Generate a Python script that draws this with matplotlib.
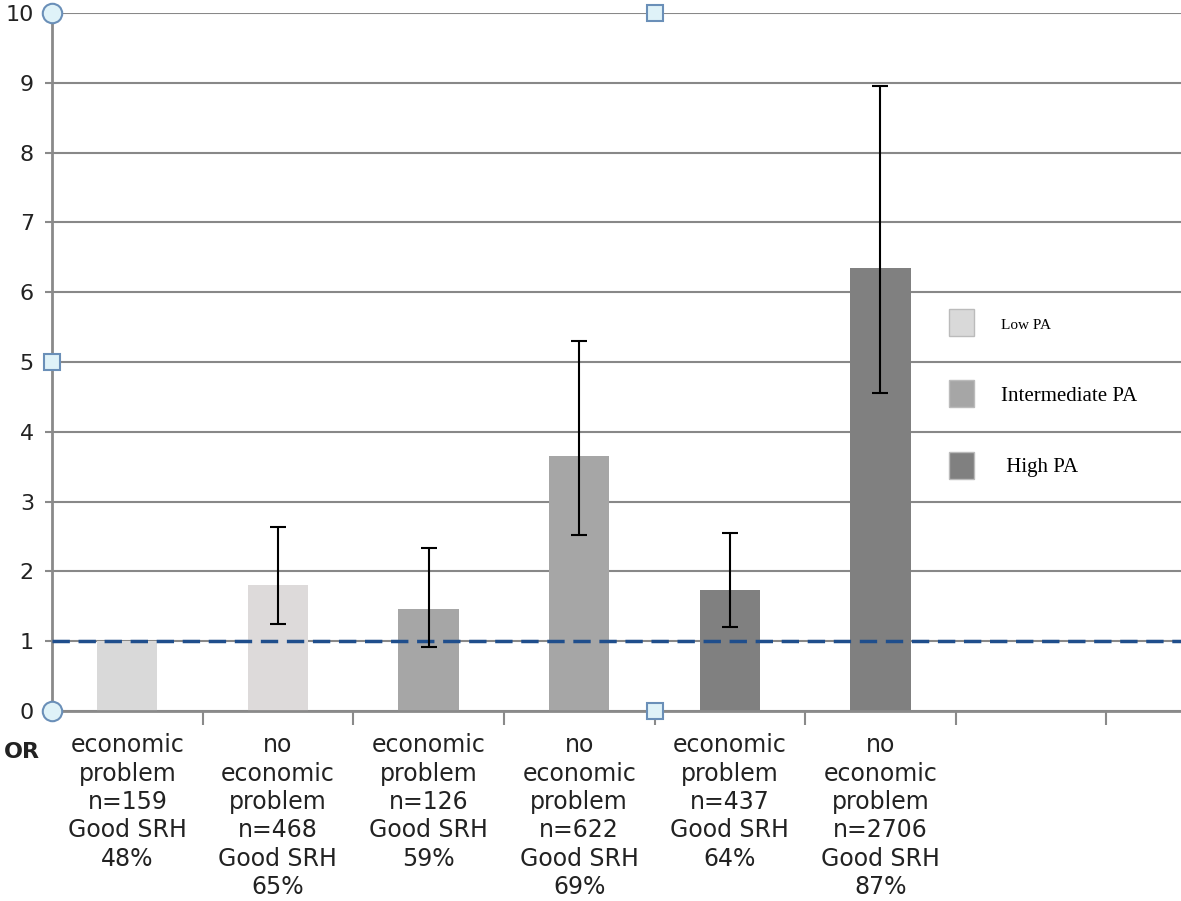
import matplotlib
matplotlib.use("Agg")
import matplotlib.pyplot as plt
from matplotlib.patches import Patch

# odds ratios with 95% CI
labels = [
    "economic\nproblem\nn=159\nGood SRH\n48%",
    "no\neconomic\nproblem\nn=468\nGood SRH\n65%",
    "economic\nproblem\nn=126\nGood SRH\n59%",
    "no\neconomic\nproblem\nn=622\nGood SRH\n69%",
    "economic\nproblem\nn=437\nGood SRH\n64%",
    "no\neconomic\nproblem\nn=2706\nGood SRH\n87%",
]
odds = [1.0, 1.8, 1.46, 3.65, 1.74, 6.35]
ci_low = [None, 1.25, 0.92, 2.52, 1.2, 4.55]
ci_high = [None, 2.63, 2.34, 5.3, 2.55, 8.95]
bar_colors = ["#d9d9d9", "#dddada", "#a6a6a6", "#a6a6a6", "#808080", "#808080"]
legend_labels = ["Low PA", "Intermediate PA", " High PA"]
legend_colors = ["#d9d9d9", "#a6a6a6", "#808080"]

fig = plt.figure(figsize=(11.81, 9.01), dpi=100)
ax = fig.add_axes([52 / 1181, 1 - 711 / 901, 1205 / 1181, 698 / 901])

x = list(range(len(odds)))
ax.bar(x, odds, width=0.4, color=bar_colors, zorder=2)
for xi, v, lo, hi in zip(x, odds, ci_low, ci_high):
    if lo is None:
        continue
    ax.errorbar(xi, v, yerr=[[v - lo], [hi - v]], fmt="none", ecolor="black",
                elinewidth=1.5, capsize=6, capthick=1.5, zorder=4)

ax.axhline(1, color="#1f4e8c", lw=2.5, ls=(0, (5, 2.5)), zorder=3)

ax.set_xlim(-0.5, 7.5)
ax.set_ylim(0, 10)
ax.set_yticks(range(11))
ax.yaxis.grid(True, color="#888888", lw=1.5, zorder=0)
ax.set_axisbelow(True)
for side in ["top", "right"]:
    ax.spines[side].set_visible(False)
for side in ["left", "bottom"]:
    ax.spines[side].set_color("#8a8a8a")
    ax.spines[side].set_linewidth(2)

ax.set_xticks(x)
ax.set_xticklabels(labels, fontsize=17, linespacing=1.23, color="#222222")
ax.tick_params(axis="x", which="major", length=0, pad=16)
ax.set_xticks([i + 0.5 for i in range(7)], minor=True)
ax.tick_params(axis="x", which="minor", length=10, width=1.5, color="#8a8a8a")
ax.tick_params(axis="y", length=5, width=1.5, color="#8a8a8a", labelsize=16, pad=8,
               labelcolor="#222222")

# selection handles from the source screenshot
handle_kw = dict(transform=ax.transAxes, clip_on=False, zorder=6,
                 markerfacecolor="#dff2f8", markeredgecolor="#6a8fb8", markeredgewidth=1.5)
ax.plot([0, 0], [0, 1], "o", markersize=14, **handle_kw)
ax.plot([0, 0.5, 0.5], [0.5, 1, 0], "s", markersize=11, **handle_kw)

fig.text(22 / 1181, 1 - 752 / 901, "OR", fontsize=16, fontweight="bold", ha="center",
         va="center", color="#222222")

handles = [Patch(facecolor=c, edgecolor="#bbbbbb", lw=1) for c in legend_colors]
leg = fig.legend(handles, legend_labels, loc="upper left",
                 bbox_to_anchor=(930 / 1181, 1 - 290 / 901), frameon=False,
                 handlelength=1.2, handleheight=1.6, labelspacing=2.15, handletextpad=1.3,
                 prop={"family": "Liberation Serif", "size": 15})
leg.get_texts()[0].set_fontsize(11)

fig.savefig("out.png", dpi=100)
